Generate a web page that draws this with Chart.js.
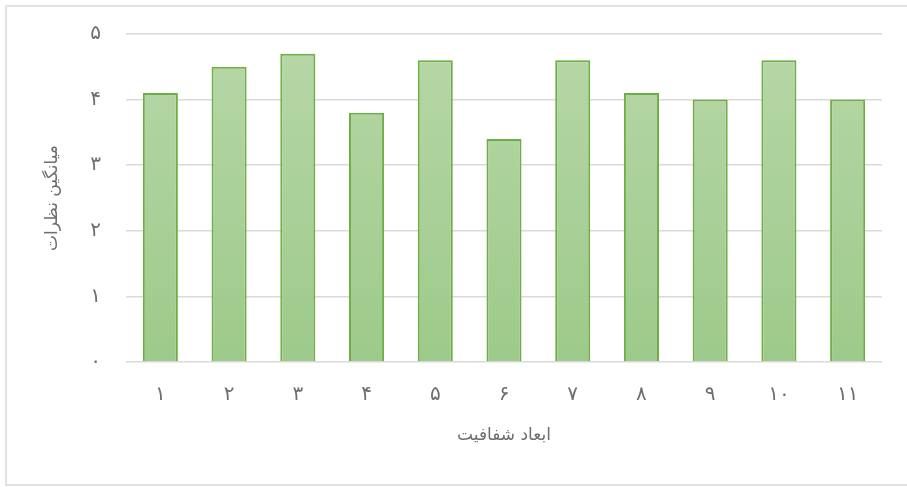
<!DOCTYPE html>
<html lang="fa">
<head>
<meta charset="utf-8">
<script src="https://cdn.jsdelivr.net/npm/chart.js@4/dist/chart.umd.min.js"></script>
<style>
  body { margin: 0; background: #fff; }
  #wrap { position: relative; width: 907px; height: 487px; overflow: hidden; }
  #frame {
    position: absolute; left: 5px; top: 5px; width: 920px; height: 481px;
    border: 2px solid #e2e2e2; box-sizing: border-box; pointer-events: none;
  }
</style>
</head>
<body>
<div id="wrap">
  <canvas id="myBarChart" width="907" height="487"></canvas>
  <div id="frame"></div>
</div>
<script>
// داده‌ها
const categories = ["۱", "۲", "۳", "۴", "۵", "۶", "۷", "۸", "۹", "۱۰", "۱۱"];
const averages = [4.1, 4.5, 4.7, 3.8, 4.6, 3.4, 4.6, 4.1, 4.0, 4.6, 4.0];
const yTickLabels = ["۰", "۱", "۲", "۳", "۴", "۵"];
const xTitle = "ابعاد شفافیت";
const yTitle = "میانگین نظرات";

const textColor = "#6e6e6e";
const fontFamily = "'DejaVu Sans', sans-serif";

// گرادیان سبز ستون‌ها
function barGradient(context) {
  const { ctx, chartArea } = context.chart;
  if (!chartArea) return "#a9d08e";
  const g = ctx.createLinearGradient(0, chartArea.top, 0, chartArea.bottom);
  g.addColorStop(0, "#b7d7a8");
  g.addColorStop(1, "#9dca8a");
  return g;
}

const ctx = document.getElementById("myBarChart");
new Chart(ctx, {
  type: "bar",
  data: {
    labels: categories,
    datasets: [
      {
        data: averages,
        backgroundColor: barGradient,
        borderColor: "#70ad47",
        borderWidth: 2,
        barPercentage: 0.51,
        categoryPercentage: 1,
      },
    ],
  },
  options: {
    responsive: false,
    animation: false,
    layout: { padding: { top: 34, right: 25, left: 0, bottom: 0 } },
    plugins: { legend: { display: false }, tooltip: { enabled: false } },
    scales: {
      x: {
        grid: { display: false, drawTicks: false },
        border: { display: false },
        ticks: {
          color: textColor,
          padding: 21,
          font: { family: fontFamily, size: 20 },
        },
        title: {
          display: true,
          text: xTitle,
          color: textColor,
          padding: { bottom: 41 },
          font: { family: fontFamily, size: 17 },
        },
        afterFit: (scale) => { scale.height = 125; },
      },
      y: {
        min: 0,
        max: 5,
        grid: { color: "#d9d9d9", lineWidth: 1.5, drawTicks: false },
        border: { display: false },
        ticks: {
          stepSize: 1,
          color: textColor,
          padding: 25,
          font: { family: fontFamily, size: 20 },
          callback: (v) => yTickLabels[v],
        },
        title: {
          display: true,
          text: yTitle,
          color: textColor,
          padding: { top: 42 },
          font: { family: fontFamily, size: 17 },
        },
        afterFit: (scale) => {
          scale.width = 126;
          scale.paddingTop = 0;
          scale.paddingBottom = 0;
        },
      },
    },
  },
});
</script>
</body>
</html>
